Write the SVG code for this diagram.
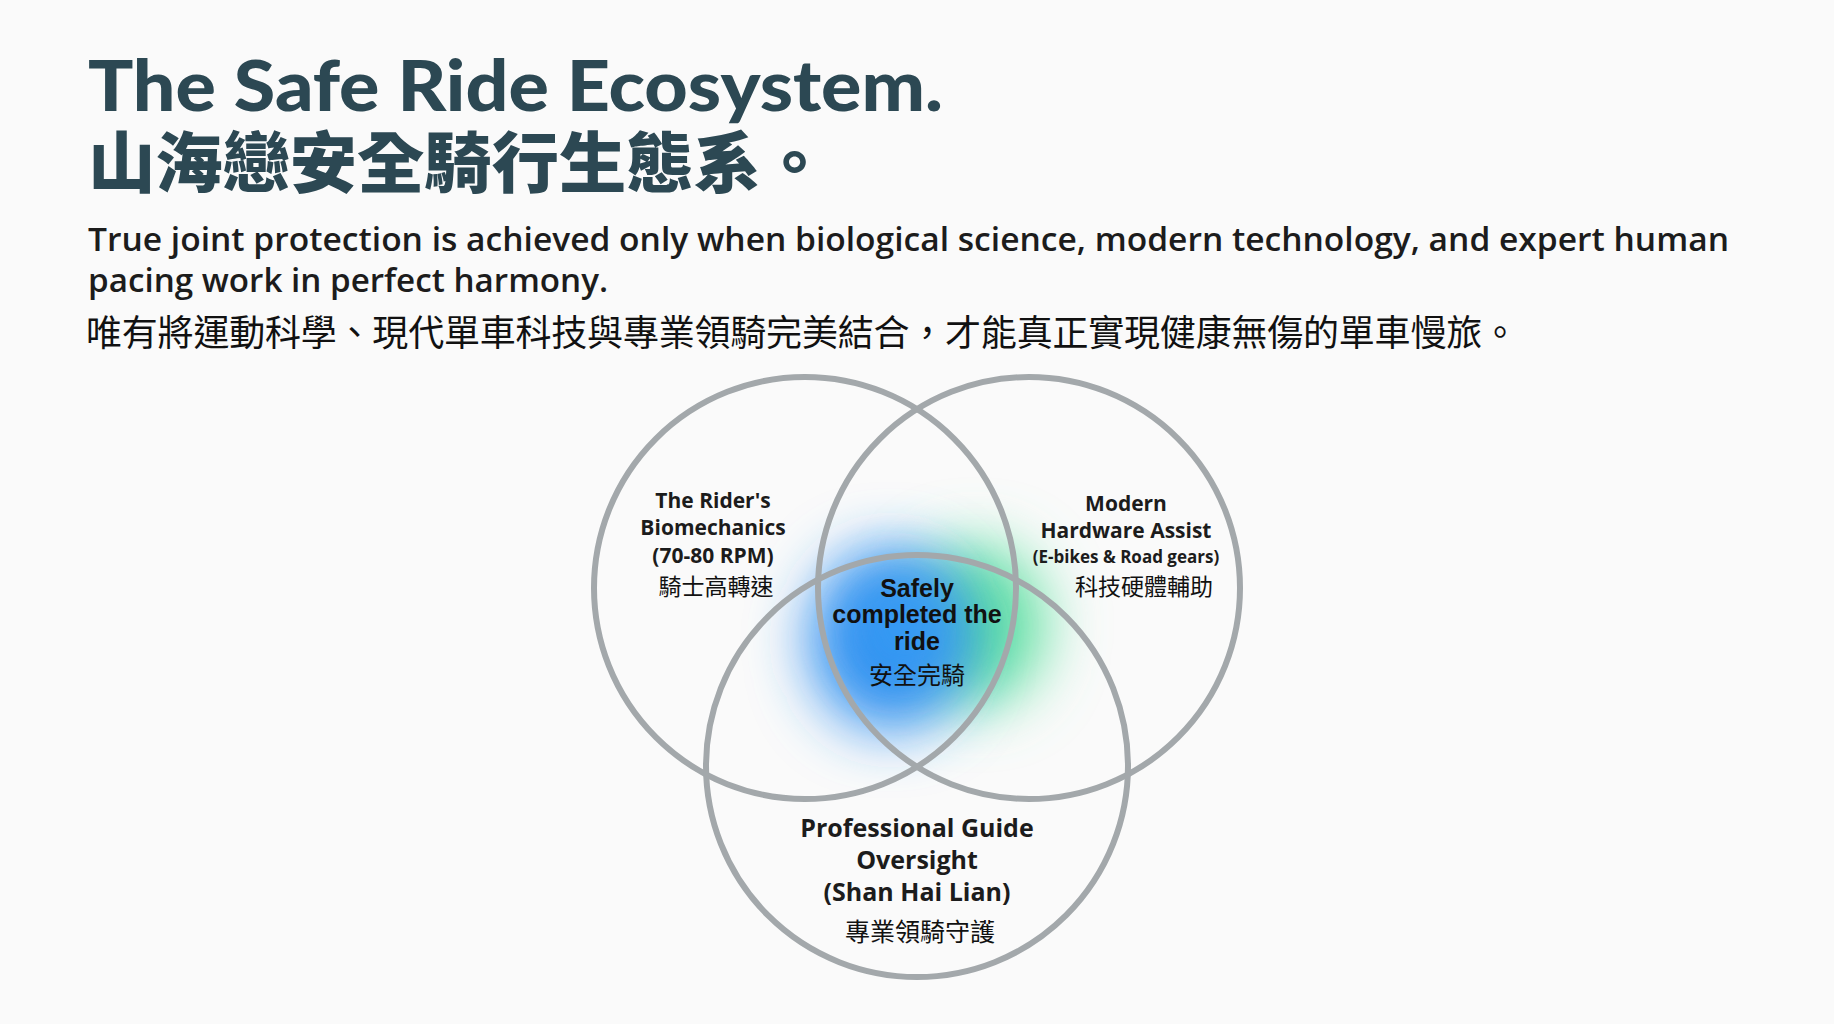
<svg xmlns="http://www.w3.org/2000/svg" width="1834" height="1024" viewBox="0 0 1834 1024">
<defs>
<style>
.t{font-family:Lato,"Noto Sans CJK TC",sans-serif;fill:#2c4853;font-weight:900}
.p{font-family:"Open Sans","Liberation Sans",sans-serif;fill:#1c1c1c;font-size:32px;font-weight:600}
.cj{font-family:"Noto Sans CJK TC",sans-serif;fill:#111}
.l{font-family:"Open Sans","Liberation Sans",sans-serif;fill:#1c1c1c;font-weight:700;text-anchor:middle}
.c{fill:none;stroke:#a3a8ab;stroke-width:6}
</style>
<filter id="b" x="-1" y="-1" width="3" height="3"><feGaussianBlur stdDeviation="30"/></filter>
</defs>
<rect width="1834" height="1024" fill="#fafafa"/>
<g id="title">
<text class="t" x="88" y="111" font-size="70" textLength="855" lengthAdjust="spacingAndGlyphs">The Safe Ride Ecosystem.</text>
<text class="t" x="88" y="187" font-size="66" textLength="740" lengthAdjust="spacingAndGlyphs">山海戀安全騎行生態系。</text>
</g>
<g id="desc">
<text class="p" x="88" y="251" textLength="1641" lengthAdjust="spacingAndGlyphs">True joint protection is achieved only when biological science, modern technology, and expert human</text>
<text class="p" x="88" y="292" textLength="520" lengthAdjust="spacingAndGlyphs">pacing work in perfect harmony.</text>
<text class="cj" x="86" y="346" font-size="36" textLength="1432">唯有將運動科學、現代單車科技與專業領騎完美結合，才能真正實現健康無傷的單車慢旅。</text>
</g>
<g id="glow">
<ellipse cx="975" cy="625" rx="70" ry="80" fill="#5fe0a0" filter="url(#b)"/>
<ellipse cx="890" cy="640" rx="80" ry="90" fill="#2f8ff0" filter="url(#b)"/>
<ellipse cx="905" cy="625" rx="45" ry="50" fill="#3aa0f5" filter="url(#b)" opacity="0.8"/>
</g>
<g id="circles">
<circle class="c" cx="805" cy="588" r="211"/>
<circle class="c" cx="1029" cy="588" r="211"/>
<circle class="c" cx="917" cy="766" r="211"/>
</g>
<g id="rider">
<text class="l" x="713" y="508" font-size="21">The Rider's</text>
<text class="l" x="713" y="535" font-size="21">Biomechanics</text>
<text class="l" x="713" y="563" font-size="21">(70-80 RPM)</text>
<text class="cj" x="716" y="595" font-size="23" text-anchor="middle">騎士高轉速</text>
</g>
<g id="hardware">
<text class="l" x="1126" y="511" font-size="21">Modern</text>
<text class="l" x="1126" y="538" font-size="21">Hardware Assist</text>
<text class="l" x="1126" y="563" font-size="17">(E-bikes &amp; Road gears)</text>
<text class="cj" x="1144" y="595" font-size="23" text-anchor="middle">科技硬體輔助</text>
</g>
<g id="center">
<text x="917" y="597" font-size="25" font-family="'Liberation Sans',sans-serif" font-weight="700" text-anchor="middle" fill="#111">Safely</text>
<text x="917" y="623" font-size="25" font-family="'Liberation Sans',sans-serif" font-weight="700" text-anchor="middle" fill="#111">completed the</text>
<text x="917" y="650" font-size="25" font-family="'Liberation Sans',sans-serif" font-weight="700" text-anchor="middle" fill="#111">ride</text>
<text class="cj" x="917" y="684" font-size="24" text-anchor="middle">安全完騎</text>
</g>
<g id="guide">
<text class="l" x="917" y="837" font-size="25">Professional Guide</text>
<text class="l" x="917" y="869" font-size="25">Oversight</text>
<text class="l" x="917" y="901" font-size="25">(Shan Hai Lian)</text>
<text class="cj" x="920" y="941" font-size="25" text-anchor="middle">專業領騎守護</text>
</g>
<g id="connectors"/>
</svg>
